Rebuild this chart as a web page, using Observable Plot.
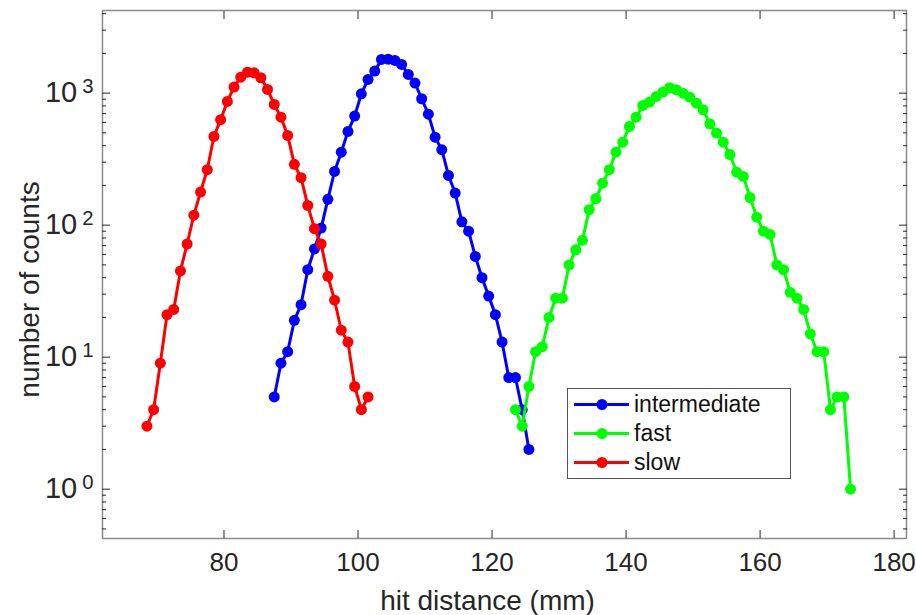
<!DOCTYPE html>
<html>
<head>
<meta charset="utf-8">
<script src="https://cdn.jsdelivr.net/npm/d3@7"></script>
<script src="https://cdn.jsdelivr.net/npm/@observablehq/plot@0.6"></script>
<style>
  body { margin: 0; background: #fff; }
  #wrap { position: relative; width: 916px; height: 615px; font-family: "Liberation Sans", Arial, Helvetica, sans-serif; }
  #legend { position: absolute; left: 567px; top: 388px; width: 224px; height: 91px; border: 1px solid #555; background: #fff; box-sizing: border-box; padding-top: 1px; }
  .row { height: 29px; display: flex; align-items: center; font-size: 23px; color: #111; }
  .row svg { flex: none; }
</style>
</head>
<body>
<div id="wrap"></div>
<script>
// ---- data ----
const seriesNames = ["intermediate", "fast", "slow"];
const seriesColors = ["#0000ff", "#00ff00", "#ff0000"];

const intermediateX = [87.5, 88.5, 89.5, 90.5, 91.5, 92.5, 93.5, 94.5, 95.5, 96.5, 97.5, 98.5, 99.5, 100.5, 101.5, 102.5, 103.5, 104.5, 105.5, 106.5, 107.5, 108.5, 109.5, 110.5, 111.5, 112.5, 113.5, 114.5, 115.5, 116.5, 117.5, 118.5, 119.5, 120.5, 121.5, 122.5, 123.5, 124.5, 125.5];
const intermediateY = [5, 9, 11, 19, 25, 46, 66, 95, 157, 255, 357, 513, 670, 989, 1270, 1469, 1800, 1810, 1770, 1650, 1387, 1192, 907, 693, 464, 373, 238, 175, 106, 90, 58, 40, 29, 21, 13, 7, 7, 4, 2];

const fastX = [123.5, 124.5, 125.5, 126.5, 127.5, 128.5, 129.5, 130.5, 131.5, 132.5, 133.5, 134.5, 135.5, 136.5, 137.5, 138.5, 139.5, 140.5, 141.5, 142.5, 143.5, 144.5, 145.5, 146.5, 147.5, 148.5, 149.5, 150.5, 151.5, 152.5, 153.5, 154.5, 155.5, 156.5, 157.5, 158.5, 159.5, 160.5, 161.5, 162.5, 163.5, 164.5, 165.5, 166.5, 167.5, 168.5, 169.5, 170.5, 171.5, 172.5, 173.5];
const fastY = [4, 3, 6, 11, 12, 20, 28, 28, 50, 65, 77, 131, 159, 208, 263, 357, 425, 560, 658, 807, 855, 945, 1018, 1099, 1061, 1000, 933, 840, 748, 586, 498, 425, 343, 252, 234, 162, 115, 90, 85, 50, 46, 31, 28, 23, 15, 11, 11, 4, 5, 5, 1];

const slowX = [68.5, 69.5, 70.5, 71.5, 72.5, 73.5, 74.5, 75.5, 76.5, 77.5, 78.5, 79.5, 80.5, 81.5, 82.5, 83.5, 84.5, 85.5, 86.5, 87.5, 88.5, 89.5, 90.5, 91.5, 92.5, 93.5, 94.5, 95.5, 96.5, 97.5, 98.5, 99.5, 100.5, 101.5];
const slowY = [3, 4, 9, 21, 23, 45, 72, 119, 178, 263, 470, 629, 865, 1111, 1321, 1442, 1426, 1308, 1067, 821, 658, 478, 289, 229, 141, 94, 72, 41, 27, 16, 13, 6, 4, 5];

const xTicks = [80, 100, 120, 140, 160, 180];
const yTicks = [1, 10, 100, 1000];
const yMinorTicks = [0.5, 0.6, 0.7, 0.8, 0.9, 2, 3, 4, 5, 6, 7, 8, 9, 20, 30, 40, 50, 60, 70, 80, 90, 200, 300, 400, 500, 600, 700, 800, 900, 2000, 3000, 4000];
const xLabel = "hit distance (mm)";
const yLabel = "number of counts";

// ---- build ----
const seriesX = [intermediateX, fastX, slowX];
const seriesY = [intermediateY, fastY, slowY];
const series = seriesNames.map((name, k) => ({
  name, color: seriesColors[k],
  rows: seriesX[k].map((x, i) => ({x, y: seriesY[k][i]}))
}));

const axisColor = "#262626";
const font = '"Liberation Sans", Arial, Helvetica, sans-serif';
const marks = [];
series.forEach(s => {
  marks.push(Plot.line(s.rows, {x: "x", y: "y", stroke: s.color, strokeWidth: 3}));
  marks.push(Plot.dot(s.rows, {x: "x", y: "y", fill: s.color, r: 5.5}));
});

const plot = Plot.plot({
  width: 916,
  height: 615,
  marginLeft: 102,
  marginRight: 10,
  marginTop: 10,
  marginBottom: 77,
  style: {fontFamily: font, background: "#fff", color: axisColor},
  x: {domain: [61.87, 181.85]},
  y: {type: "log", domain: [0.423, 4227]},
  marks: [
    ...marks,
    Plot.frame({stroke: "#8a8a8a", strokeWidth: 1.5}),
    // tick marks (inward, MATLAB style)
    Plot.axisX({anchor: "bottom", ticks: xTicks, tickSize: -8, tickFormat: () => "", label: null, stroke: axisColor}),
    Plot.axisX({anchor: "top", ticks: xTicks, tickSize: -8, tickFormat: () => "", label: null, stroke: axisColor}),
    Plot.axisY({anchor: "left", ticks: yTicks, tickSize: -8, tickFormat: () => "", label: null, stroke: axisColor}),
    Plot.axisY({anchor: "right", ticks: yTicks, tickSize: -8, tickFormat: () => "", label: null, stroke: axisColor}),
    Plot.axisY({anchor: "left", ticks: yMinorTicks, tickSize: -4, tickFormat: () => "", label: null, stroke: axisColor}),
    Plot.axisY({anchor: "right", ticks: yMinorTicks, tickSize: -4, tickFormat: () => "", label: null, stroke: axisColor}),
    // tick labels
    Plot.axisX({anchor: "bottom", ticks: xTicks, tickSize: 0, tickPadding: 14, fontSize: 26, fill: axisColor, label: null}),
    Plot.axisY({anchor: "left", ticks: yTicks, tickSize: 0, tickPadding: 9, fontSize: 29, fill: axisColor,
      tickFormat: d => "10^" + Math.round(Math.log10(d)), label: null}),
    // axis titles
    Plot.text([xLabel], {frameAnchor: "bottom", text: d => d, textAnchor: "middle", dx: -17, dy: 71, fontSize: 28, fill: axisColor, fontFamily: font}),
    Plot.text([yLabel], {frameAnchor: "left", text: d => d, textAnchor: "middle", lineAnchor: "middle", rotate: -90, dx: -72, dy: 15, fontSize: 28, fill: axisColor, fontFamily: font})
  ]
});

// MATLAB-like superscripts on the log-axis labels
d3.select(plot).selectAll('g[aria-label="y-axis tick label"] text').each(function () {
  const t = d3.select(this);
  const s = t.text();
  if (!s.includes("^")) return;
  const [base, exp] = s.split("^");
  t.text(null);
  t.append("tspan").text(base);
  t.append("tspan").attr("dx", "5").attr("dy", "-0.45em").attr("font-size", "0.7em").text(exp);
});

const wrap = document.getElementById("wrap");
wrap.appendChild(plot);

// legend
const legend = document.createElement("div");
legend.id = "legend";
series.forEach(s => {
  const row = document.createElement("div");
  row.className = "row";
  row.innerHTML = `<svg width="62" height="29"><line x1="6" x2="61" y1="14.5" y2="14.5" stroke="${s.color}" stroke-width="3"/><circle cx="34" cy="14.5" r="5.5" fill="${s.color}"/></svg><span style="margin-left:4px">${s.name}</span>`;
  legend.appendChild(row);
});
wrap.appendChild(legend);
</script>
</body>
</html>
